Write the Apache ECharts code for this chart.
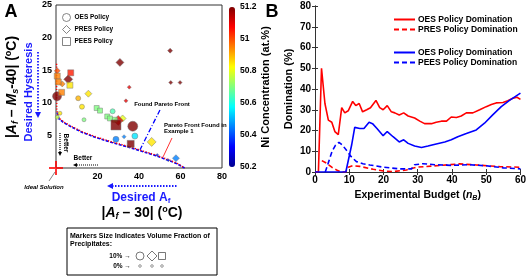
<!DOCTYPE html>
<html><head><meta charset="utf-8">
<script src="https://cdn.jsdelivr.net/npm/echarts@6/dist/echarts.min.js"></script>
<style>html,body{margin:0;padding:0;background:#fff}#c{width:529px;height:277px}</style>
</head><body><div id="c"></div>
<script>
const FONT = 'Liberation Sans, Arial, sans-serif';
// Panel A: [ |Af-30| , |Af-Ms-40| , Ni at.% , marker size (precipitate fraction) ]
const oesPolicy = [
 [0.5,11.0,51.2,9],[10.7,10.7,50.9,5],[12.5,9.4,50.85,5],[1.9,8.4,50.85,4],
 [0.6,7.8,50.75,4],[13.5,7.4,50.7,4],[27.3,8.7,50.65,5],[37,6.4,51.2,10],
 [38,4.9,50.55,6],[28.9,4.4,50.45,6]
];
const presPolicy = [
 [0.6,14.9,51.0,6],[5.9,13.6,51.2,9],[3,12.9,50.95,6],[15.6,11.4,50.85,7],
 [32.1,7.6,50.8,7],[30,7.3,51.1,10],[32.8,4.8,50.45,4],[46.1,4.0,50.85,9],
 [57.8,1.5,50.45,7],[48.8,2.0,50.35,3],[54.1,1.2,50.35,3],[30.8,16.2,51.2,8],
 [55,18,51.2,5],[35.3,12.4,51.1,4],[33.7,10.3,51.1,4],[55.3,13.1,51.2,4],[59.8,13.1,51.2,4]
];
const peesPolicy = [
 [0.6,14.1,50.95,6],[7.1,14.6,51.05,6],[6.7,12.7,50.85,6],[1.1,13.2,50.95,6],
 [2.7,11.6,50.95,6],[19.6,9.2,50.7,5],[21.2,8.8,50.7,5],[24.7,7.9,50.7,5],
 [26,7.6,50.7,5],[28.4,7.4,50.7,5],[28.9,6.6,51.2,10],[36,3.7,51.2,7]
];
const foundFrontBlue = [[0.6,8.5],[1.5,7.5],[4,6.9],[8,6.2],[13,5.4],[20,4.6],[27,3.9],[35,3.2],[42,2.5],[48,1.9],[54,1.2],[58,0.7],[62,0]];
const example1FrontRed = [[0.3,16],[0.3,12],[0.4,9],[1,7.8],[4,7.0],[8,6.3],[13,5.5],[20,4.7],[27,4.0],[35,3.3],[42,2.6],[48,2.0],[54,1.3],[58,0.8],[62,0]];
const foundFrontPointer = [[50.1,8.9],[40.5,2.8]];
const example1Pointer = [[55.9,4.6],[51.6,1.7]];
const idealSolution = [[0,0]];
const niTicks = [50.2,51.2,0.2];

// Panel B: [experimental budget n_B, domination %]
const oesVsPres = [[0,0],[1,0],[1.9,50],[2.9,33],[3.9,25],[4.9,24],[5.8,19.5],[6.8,18],[7.8,31],[8.7,28.5],[9.7,29.5],[11,34],[11.9,32],[12.9,33],[13.9,29],[15.1,30],[16.2,31],[17.8,34.5],[18.9,31],[19.9,30],[21.1,32],[22.3,29],[23.3,28.5],[24.6,27.5],[25.9,28.5],[27.2,27],[29.1,26],[30.6,24.5],[32,23.3],[34,23.3],[35.4,24],[36.9,24.5],[38.4,24.5],[39.8,26.5],[41.3,26.3],[42.7,27],[44.2,28.5],[46.1,28.5],[48.1,30],[50,31.5],[51.5,32.5],[52.9,33.3],[54.9,33.5],[56.3,34.3],[57.8,35.5],[59,36],[60,35]];
const presDom = [[2,5.5],[3.4,4.2],[5,2.2],[6.3,1],[7.5,0],[9,0],[9.7,2.3],[11,3],[13.1,2.7],[17,1.3],[20,0.5],[22.8,0.2],[26.7,1],[29.6,2.3],[34.5,2.9],[39.3,3.5],[42.2,3.9],[47.1,3.4],[53.9,2.6],[60,2.3]];
const oesVsPees = [[0,0],[9,0],[10.7,13],[11.6,21.5],[13.1,21],[14.3,21],[15.8,24],[16.8,23.3],[18.1,21],[19.9,17.5],[21.1,19.5],[22.8,17],[24.6,14.5],[25.9,15.5],[27.2,13.8],[29.1,12.5],[31.1,11.8],[33,12.5],[35.4,13.5],[37.9,14.5],[39.8,15.5],[41.7,17],[44.2,18.5],[47.1,20.3],[49.5,23.5],[51.9,27.5],[54.4,31.5],[56.8,34.5],[60,38]];
const peesDom = [[3,0],[4,5],[5,10],[6,13],[7,14.3],[8,13],[9.4,10],[10.5,7.5],[12.1,5],[14,4],[16,3.4],[20,2.3],[24.8,1.5],[28.2,1.5],[29.1,3.5],[31.5,4],[35,3.5],[40,3.2],[45,3.5],[50,3],[55,2],[60,1.5]];

const chart = echarts.init(document.getElementById('c'), null, {renderer:'canvas'});
const bold = (s, extra) => Object.assign({fontFamily:FONT, fontWeight:'bold', fontSize:s, color:'#000'}, extra||{});
const sz = d => d[3];
const mk = {borderColor:'#777', borderWidth:0.6};
const hollow = {color:'#fff', borderColor:'#666', borderWidth:1};
const crossPath = 'path://M-1,-7L1,-7L1,-1L7,-1L7,1L1,1L1,7L-1,7L-1,1L-7,1L-7,-1L-1,-1Z';

const T = (x,y,text,size,opt) => ({type:'text', x, y, rotation:(opt&&opt.rot)||0, z:50,
  style:Object.assign({text, fontFamily:FONT, fontWeight:'bold', fontSize:size, fill:'#000', align:'center', verticalAlign:'middle'}, (opt&&opt.style)||{})});
const L = (x1,y1,x2,y2,color,dash,w) => ({type:'line', z:50, shape:{x1,y1,x2,y2}, style:{stroke:color, lineWidth:w||1.2, lineDash:dash||null}});
const P = (pts,color) => ({type:'polygon', z:50, shape:{points:pts}, style:{fill:color}});
const legB = (top, data) => ({left:388, top, orient:'vertical', itemGap:1, itemWidth:21, itemHeight:9, selectedMode:false,
  textStyle:bold(8.5, {padding:[0,0,0,-2]}), itemStyle:{color:'transparent', borderWidth:0, opacity:0}, formatter:n=>n.trim(), data});

const option = {
  animation:false,
  backgroundColor:'#fff',
  textStyle:{fontFamily:FONT},
  grid:[
    {left:56, top:5, width:166, height:163, show:true, borderColor:'#333', borderWidth:1, backgroundColor:'transparent'},
    {left:229, top:7, width:6, height:160},
    {left:315, top:6, width:206, height:166}
  ],
  visualMap:{type:'continuous', min:50.2, max:51.2, dimension:2, seriesIndex:[4,5,6], padding:0,
    left:229, top:7, itemWidth:6, itemHeight:160, text:null, calculable:false, hoverLink:false, z:1,
    inRange:{color:['#00008F','#0000FF','#0080FF','#00FFFF','#80FF80','#FFFF00','#FF8000','#FF0000','#800000']}},
  xAxis:[
    {gridIndex:0, type:'value', min:0, max:80, interval:20, axisLine:{show:false}, axisTick:{show:false}, splitLine:{show:false},
      axisLabel:Object.assign(bold(9), {showMinLabel:false, margin:4})},
    {gridIndex:1, type:'value', show:false},
    {gridIndex:2, type:'value', min:0, max:60, interval:10, axisLine:{lineStyle:{color:'#333'}}, axisTick:{inside:true, length:3, lineStyle:{color:'#333'}},
      splitLine:{show:false}, axisLabel:Object.assign(bold(10), {margin:3}),
      name:'Experimental Budget ({i|n}{s|B})', nameLocation:'middle', nameGap:17,
      nameTextStyle:bold(10.5, {rich:{i:bold(10.5,{fontStyle:'italic'}), s:bold(7,{fontStyle:'italic', padding:[6,0,0,0]})}})},
    {gridIndex:2, type:'value', position:'top', min:0, max:60, interval:10, axisLine:{lineStyle:{color:'#333'}}, axisTick:{inside:true, length:3, lineStyle:{color:'#333'}},
      axisLabel:{show:false}, splitLine:{show:false}}
  ],
  yAxis:[
    {gridIndex:0, type:'value', min:0, max:25, interval:5, axisLine:{show:false}, axisTick:{show:false}, splitLine:{show:false},
      axisLabel:Object.assign(bold(9), {showMinLabel:false, margin:4})},
    {gridIndex:1, type:'value', min:niTicks[0], max:niTicks[1], interval:niTicks[2], position:'right', z:20,
      axisLine:{show:false}, axisTick:{show:false}, splitLine:{show:false},
      axisLabel:Object.assign(bold(8.5), {margin:5, formatter:v=>String(+v.toFixed(1))}),
      name:'Ni Concentration (at.%)', nameLocation:'middle', nameRotate:90, nameGap:22, nameTextStyle:bold(11)},
    {gridIndex:2, type:'value', min:0, max:80, interval:10, axisLine:{lineStyle:{color:'#333'}}, axisTick:{inside:true, length:3, lineStyle:{color:'#333'}},
      splitLine:{show:false}, axisLabel:Object.assign(bold(10), {margin:4}),
      name:'Domination (%)', nameLocation:'middle', nameGap:21, nameTextStyle:bold(11)},
    {gridIndex:2, type:'value', position:'right', min:0, max:80, interval:10, axisLine:{lineStyle:{color:'#333'}}, axisTick:{inside:true, length:3, lineStyle:{color:'#333'}},
      axisLabel:{show:false}, splitLine:{show:false}}
  ],
  legend:[
    {left:57, top:8, orient:'vertical', itemGap:3, itemWidth:8, itemHeight:8, selectedMode:false,
      textStyle:bold(6.5, {padding:[0,0,0,-1]}),
      data:[{name:'OES Policy', icon:'circle', itemStyle:hollow},{name:'PRES Policy', icon:'diamond', itemStyle:hollow},{name:'PEES Policy', icon:'rect', itemStyle:hollow}]},
    legB(10, ['OES Policy Domination','PRES Policy Domination']),
    legB(43, ['OES Policy Domination ','PEES Policy Domination'])
  ],
  series:[
    {type:'line', xAxisIndex:0, yAxisIndex:0, data:foundFrontBlue, symbol:'none', z:2, lineStyle:{color:'#0000ff', width:1.6, type:[3,1.5]}},
    {type:'line', xAxisIndex:0, yAxisIndex:0, data:example1FrontRed, symbol:'none', z:3, lineStyle:{color:'#ff0000', width:1.4, type:[1.2,1.6]}},
    {type:'line', xAxisIndex:0, yAxisIndex:0, data:foundFrontPointer, symbol:'none', z:3, lineStyle:{color:'#0000ff', width:1.3, type:[5,2,1,2]}},
    {type:'line', xAxisIndex:0, yAxisIndex:0, data:example1Pointer, symbol:'none', z:3, lineStyle:{color:'#ff0000', width:0.8}},
    {name:'OES Policy', type:'scatter', xAxisIndex:0, yAxisIndex:0, symbol:'circle', symbolSize:sz, data:oesPolicy, itemStyle:mk, z:5},
    {name:'PRES Policy', type:'scatter', xAxisIndex:0, yAxisIndex:0, symbol:'diamond', symbolSize:sz, data:presPolicy, itemStyle:mk, z:5},
    {name:'PEES Policy', type:'scatter', xAxisIndex:0, yAxisIndex:0, symbol:'rect', symbolSize:sz, data:peesPolicy, itemStyle:mk, z:5},
    {type:'scatter', xAxisIndex:0, yAxisIndex:0, symbol:crossPath, symbolSize:14, data:idealSolution, clip:false, itemStyle:{color:'#ff0000'}, z:10},
    {name:'OES Policy Domination', type:'line', xAxisIndex:2, yAxisIndex:2, data:oesVsPres, symbol:'none', lineStyle:{color:'#ff0000', width:1.6}, itemStyle:{color:'#ff0000'}},
    {name:'PRES Policy Domination', type:'line', xAxisIndex:2, yAxisIndex:2, data:presDom, symbol:'none', lineStyle:{color:'#ff0000', width:1.6, type:[5,3]}, itemStyle:{color:'#ff0000'}},
    {name:'OES Policy Domination ', type:'line', xAxisIndex:2, yAxisIndex:2, data:oesVsPees, symbol:'none', lineStyle:{color:'#0000ff', width:1.6}, itemStyle:{color:'#0000ff'}},
    {name:'PEES Policy Domination', type:'line', xAxisIndex:2, yAxisIndex:2, data:peesDom, symbol:'none', lineStyle:{color:'#0000ff', width:1.6, type:[5,3]}, itemStyle:{color:'#0000ff'}}
  ],
  graphic:[
    T(11,12,'A',18),
    T(272,12,'B',18),
    T(12,87,'|{it|A}{sb|f} – {it|M}{sb|s}-40| ({sp|o}C)',14,{rot:Math.PI/2, style:{rich:{
      it:{fontFamily:FONT,fontWeight:'bold',fontStyle:'italic',fontSize:14},
      sb:{fontFamily:FONT,fontWeight:'bold',fontStyle:'italic',fontSize:9,padding:[7,0,0,0]},
      sp:{fontFamily:FONT,fontWeight:'bold',fontSize:9,padding:[0,0,7,0]}}}}),
    T(29,92,'Desired Hysteresis',11,{rot:Math.PI/2, style:{fill:'#1a1aff'}}),
    L(38,52,38,113,'#1a1aff',[1.5,1.5],1.8), P([[35,112],[41,112],[38,118]],'#1a1aff'),
    T(141,198,'Desired A{sb|f}',12,{style:{fill:'#1a1aff', rich:{sb:{fontFamily:FONT,fontWeight:'bold',fontSize:8,fill:'#1a1aff',padding:[6,0,0,0]}}}}),
    L(112,186,178,186,'#1a1aff',[1.5,1.5],1.8), P([[107,186],[113,183],[113,189]],'#1a1aff'),
    T(142,213,'|{it|A}{sb|f} – 30| ({sp|o}C)',14,{style:{rich:{
      it:{fontFamily:FONT,fontWeight:'bold',fontStyle:'italic',fontSize:14},
      sb:{fontFamily:FONT,fontWeight:'bold',fontStyle:'italic',fontSize:9,padding:[7,0,0,0]},
      sp:{fontFamily:FONT,fontWeight:'bold',fontSize:9,padding:[0,0,7,0]}}}}),
    T(44,187,'Ideal Solution',6,{style:{fontStyle:'italic'}}),
    L(49,181,55,172,'#333',null,0.6),
    T(162,104,'Found Pareto Front',6),
    T(164,125,'Pareto Front Found in',6,{style:{align:'left'}}),
    T(164,131,'Example 1',6,{style:{align:'left'}}),
    T(83,158,'Better',6.5),
    L(77,165,98,165,'#000',[1,1],1.2), P([[73,165],[77,163],[77,167]],'#000'),
    T(66,143,'Better',6.5,{rot:-Math.PI/2}),
    L(60,133,60,152,'#000',[1,1],1.2), P([[60,156],[58,152],[62,152]],'#000'),
    {type:'rect', z:40, shape:{x:67, y:228, width:150, height:47}, style:{fill:'#fff', stroke:'#000', lineWidth:1}},
    T(70,236,'Markers Size Indicates Volume Fraction of',7,{style:{align:'left'}}),
    T(70,244,'Precipitates:',7,{style:{align:'left'}}),
    T(120,256,'10% →',6.5),
    T(122,266,'0% →',6.5),
    {type:'circle', z:50, shape:{cx:140, cy:256, r:4}, style:{fill:'#fff', stroke:'#555', lineWidth:0.8}},
    {type:'polygon', z:50, shape:{points:[[152,251],[157,256],[152,261],[147,256]]}, style:{fill:'#fff', stroke:'#555', lineWidth:0.8}},
    {type:'rect', z:50, shape:{x:158.5, y:252.5, width:7, height:7}, style:{fill:'#fff', stroke:'#555', lineWidth:0.8}},
    {type:'circle', z:50, shape:{cx:140, cy:266, r:1.3}, style:{fill:'#fff', stroke:'#555', lineWidth:0.6}},
    {type:'circle', z:50, shape:{cx:152, cy:266, r:1.3}, style:{fill:'#fff', stroke:'#555', lineWidth:0.6}},
    {type:'circle', z:50, shape:{cx:162, cy:266, r:1.3}, style:{fill:'#fff', stroke:'#555', lineWidth:0.6}}
  ]
};
chart.setOption(option);
</script></body></html>
